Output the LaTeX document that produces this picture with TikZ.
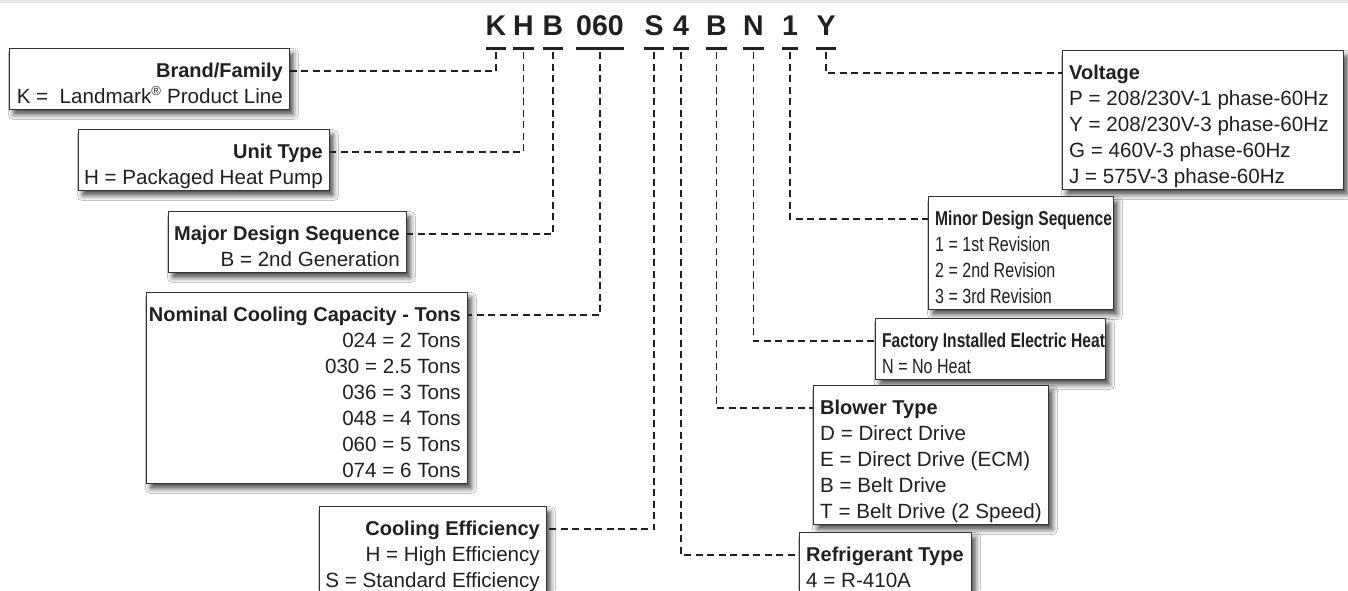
\documentclass[tikz,border=0pt]{standalone}
\usepackage{fontspec}
\setmainfont{Liberation Sans}
\newfontfamily\condfont[FakeStretch=0.78]{Liberation Sans}
\usetikzlibrary{calc,shadows.blur}
\definecolor{txt}{HTML}{231F20}
\definecolor{boxc}{HTML}{333333}
\definecolor{band}{HTML}{E6E7E8}
\tikzset{
  bx/.style={draw=boxc, line width=1.2pt, fill=white, inner sep=0pt,
    blur shadow={shadow xshift=4pt, shadow yshift=-5pt, shadow blur radius=5pt, shadow opacity=70}},
  lt/.style={inner sep=0pt, text=txt, font=\fontsize{20.6}{26}\selectfont},
  code/.style={inner sep=0pt, text=txt, font=\fontsize{28.5}{30}\selectfont\bfseries},
  uline/.style={draw=txt, line width=3pt},
  conn/.style={draw=txt, line width=1.8pt, dash pattern=on 7pt off 4.5pt}
}
\newcommand\ttl[1]{{\fontsize{20}{26}\selectfont\bfseries #1}}
\newcommand\Llines[3]{\foreach \t [count=\i] in {#3} \node[lt, anchor=base east] at ($(#1.north east)+(-7,{29+26*(\i-1)})$) {#2\t};}
\newcommand\Rlines[3]{\foreach \t [count=\i] in {#3} \node[lt, anchor=base west] at ($(#1.north west)+(7,{29+26*(\i-1)})$) {#2\t};}
\begin{document}
\begin{tikzpicture}[x=1pt,y=-1pt]
\useasboundingbox (0,0) rectangle (1348,590);
\fill[white] (0,0) rectangle (1348,590);
\fill[band] (0,0) rectangle (1348,3);
% code letters
\node[code, anchor=base] (lK) at (496,35) {K};
\node[code, anchor=base] (lH) at (523.5,35) {H};
\node[code, anchor=base] (lB) at (553,35) {B};
\node[code, anchor=base] (lCap) at (600,35) {060};
\node[code, anchor=base] (lS) at (654,35) {S};
\node[code, anchor=base] (lR) at (681,35) {4};
\node[code, anchor=base] (lBl) at (716.5,35) {B};
\node[code, anchor=base] (lN) at (753.5,35) {N};
\node[code, anchor=base] (l1) at (790,35) {1};
\node[code, anchor=base] (lY) at (826,35) {Y};
\foreach \n in {lK,lH,lB,lCap,lS,lR,lBl,lN,l1,lY}
  \draw[uline] ([yshift=-13.5pt]\n.base west) -- ([yshift=-13.5pt]\n.base east);
% left boxes
\node[bx, anchor=north east, minimum width=280, minimum height=61] (brand) at (290,48) {};
\Llines{brand}{}{{\ttl{Brand/Family}},{K =\ \ Landmark\textsuperscript{\fontsize{13}{13}\selectfont ®} Product Line}}
\node[bx, anchor=north east, minimum width=251, minimum height=61] (unit) at (330,129) {};
\Llines{unit}{}{{\ttl{Unit Type}},{H = Packaged Heat Pump}}
\node[bx, anchor=north east, minimum width=238, minimum height=61] (major) at (407,211) {};
\Llines{major}{}{{\ttl{Major Design Sequence}},{B = 2nd Generation}}
\node[bx, anchor=north east, minimum width=321, minimum height=191] (nom) at (468,292) {};
\Llines{nom}{}{{\ttl{Nominal Cooling Capacity - Tons}},{024 = 2 Tons},{030 = 2.5 Tons},{036 = 3 Tons},{048 = 4 Tons},{060 = 5 Tons},{074 = 6 Tons}}
\node[bx, anchor=north east, minimum width=227, minimum height=87] (cool) at (547,506) {};
\Llines{cool}{}{{\ttl{Cooling Efficiency}},{H = High Efficiency},{S = Standard Efficiency}}
% right boxes
\node[bx, anchor=north west, minimum width=281, minimum height=139] (volt) at (1062,50) {};
\Rlines{volt}{}{{\ttl{Voltage}},{P = 208/230V-1 phase-60Hz},{Y = 208/230V-3 phase-60Hz},{G = 460V-3 phase-60Hz},{J = 575V-3 phase-60Hz}}
\node[bx, anchor=north west, minimum width=185, minimum height=113] (minor) at (928,196) {};
\Rlines{minor}{\condfont}{{\ttl{Minor Design Sequence}},{1 = 1st Revision},{2 = 2nd Revision},{3 = 3rd Revision}}
\node[bx, anchor=north west, minimum width=230, minimum height=61] (heat) at (875,318) {};
\Rlines{heat}{\condfont}{{\ttl{Factory Installed Electric Heat}},{N = No Heat}}
\node[bx, anchor=north west, minimum width=235, minimum height=139] (blow) at (813,385) {};
\Rlines{blow}{}{{\ttl{Blower Type}},{D = Direct Drive},{E = Direct Drive (ECM)},{B = Belt Drive},{T = Belt Drive (2 Speed)}}
\node[bx, anchor=north west, minimum width=172, minimum height=61] (refr) at (799,532) {};
\Rlines{refr}{}{{\ttl{Refrigerant Type}},{4 = R-410A}}
% connection points
\coordinate (cBrand) at ($(brand.north east)+(0,23)$);
\coordinate (cUnit) at ($(unit.north east)+(0,23)$);
\coordinate (cMajor) at ($(major.north east)+(0,23)$);
\coordinate (cNom) at ($(nom.north east)+(0,23)$);
\coordinate (cCool) at ($(cool.north east)+(0,23)$);
\coordinate (cVolt) at ($(volt.north west)+(0,23)$);
\coordinate (cMinor) at ($(minor.north west)+(0,23)$);
\coordinate (cHeat) at ($(heat.north west)+(0,23)$);
\coordinate (cBlow) at ($(blow.north west)+(0,23)$);
\coordinate (cRefr) at ($(refr.north west)+(0,23)$);
% connectors
\draw[conn] ([yshift=-17pt]lK.base) |- (cBrand);
\draw[conn] ([yshift=-17pt]lH.base) |- (cUnit);
\draw[conn] ([yshift=-17pt]lB.base) |- (cMajor);
\draw[conn] ([yshift=-17pt]lCap.base) |- (cNom);
\draw[conn] ([yshift=-17pt]lS.base) |- (cCool);
\draw[conn] ([yshift=-17pt]lR.base) |- (cRefr);
\draw[conn] ([yshift=-17pt]lBl.base) |- (cBlow);
\draw[conn] ([yshift=-17pt]lN.base) |- (cHeat);
\draw[conn] ([yshift=-17pt]l1.base) |- (cMinor);
\draw[conn] ([yshift=-17pt]lY.base) |- (cVolt);
\end{tikzpicture}
\end{document}
